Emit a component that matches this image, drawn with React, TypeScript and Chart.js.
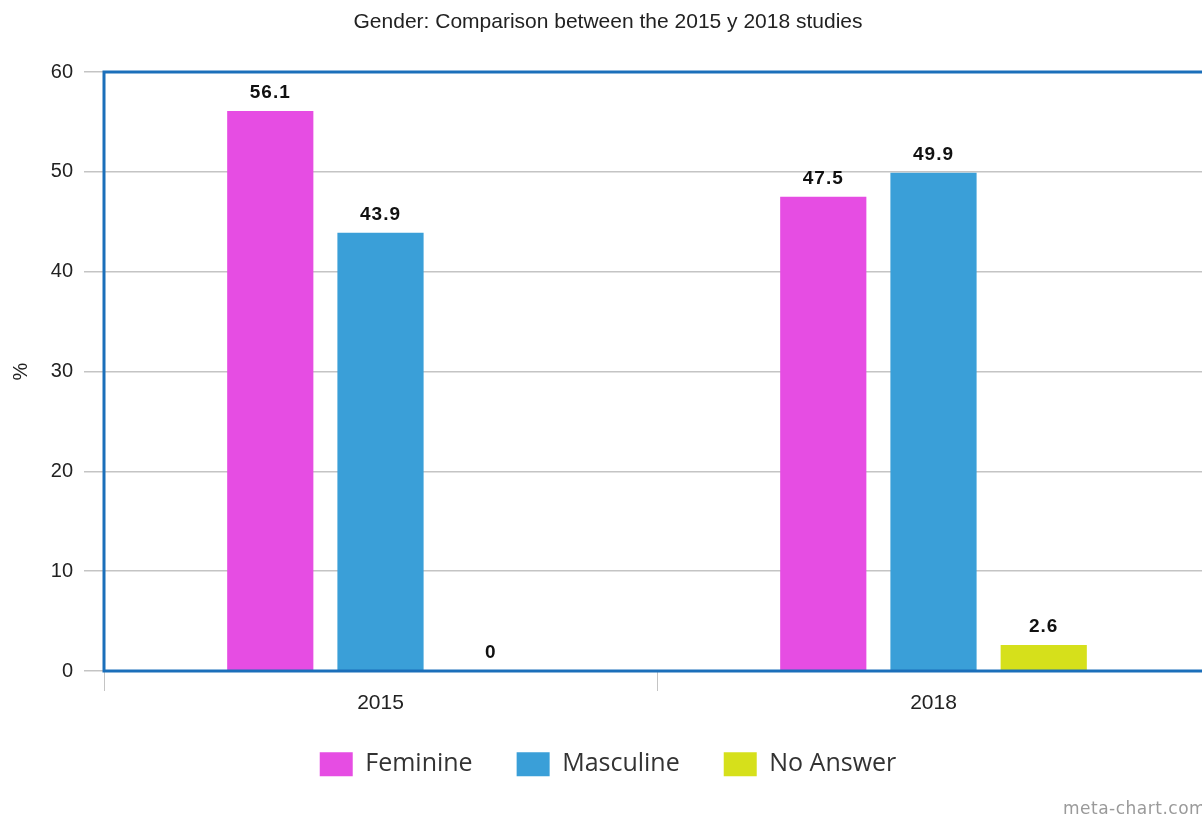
import React, { useEffect, useRef } from "react";
import { Chart, registerables } from "chart.js";

Chart.register(...registerables);

const categories = ["2015", "2018"];
const feminine = [56.1, 47.5];
const masculine = [43.9, 49.9];
const noAnswer = [0, 2.6];
const seriesNames = ["Feminine", "Masculine", "No Answer"];
const seriesColors = ["#e64de3", "#3a9fd8", "#d6e01b"];
const titleText = "Gender: Comparison between the 2015 y 2018 studies";
const yTitle = "%";
const watermark = "meta-chart.com";

const FONT = "'Liberation Sans', Arial, sans-serif";

const frameColor = "#1b6fba";

const framePlugin = {
  id: "frame",
  afterDatasetsDraw(chart: any) {
    const { ctx, chartArea } = chart;
    ctx.save();
    ctx.strokeStyle = frameColor;
    ctx.lineWidth = 3;
    ctx.strokeRect(chartArea.left, chartArea.top, chartArea.right - chartArea.left, chartArea.bottom - chartArea.top);
    ctx.restore();
  },
};

const shiftPlugin = {
  id: "shiftBoxes",
  afterLayout(chart: any) {
    const t = chart.titleBlock;
    if (t) {
      t.left += 3;
      t.right += 3;
    }
    const l = chart.legend;
    if (l) {
      l.left += 3;
      l.right += 3;
      l.top -= 8.5;
      l.bottom -= 8.5;
    }
  },
};

const labelPlugin = {
  id: "valueLabels",
  afterDraw(chart: any) {
    const { ctx } = chart;
    ctx.save();
    ctx.font = `bold 19px ${FONT}`;
    (ctx as any).letterSpacing = "1px";
    ctx.fillStyle = "#111";
    ctx.textAlign = "center";
    ctx.textBaseline = "alphabetic";
    chart.data.datasets.forEach((ds: any, di: number) => {
      const meta = chart.getDatasetMeta(di);
      meta.data.forEach((el: any, i: number) => {
        const v = ds.data[i];
        ctx.fillText(String(v), el.x, el.y - 13);
      });
    });
    ctx.restore();
  },
};

const watermarkPlugin = {
  id: "watermark",
  afterDraw(chart: any) {
    const { ctx } = chart;
    ctx.save();
    ctx.font = `17px 'DejaVu Sans', sans-serif`;
    (ctx as any).letterSpacing = "0.5px";
    ctx.fillStyle = "#9a9a9a";
    ctx.textAlign = "left";
    ctx.textBaseline = "alphabetic";
    ctx.fillText(watermark, 1063, 814);
    ctx.restore();
  },
};

export default function App() {
  const ref = useRef<HTMLCanvasElement | null>(null);
  useEffect(() => {
    document.body.style.margin = "0";
    const canvas = ref.current;
    if (!canvas) return;
    const values = [feminine, masculine, noAnswer];
    const chart = new Chart(canvas, {
      type: "bar",
      data: {
        labels: categories,
        datasets: values.map((d, i) => ({
          label: seriesNames[i],
          data: d,
          backgroundColor: seriesColors[i],
          borderWidth: 0,
          categoryPercentage: 0.598,
          barPercentage: 0.782,
        })),
      },
      options: {
        animation: false,
        responsive: false,
        devicePixelRatio: 1,
        layout: { padding: { top: 0, left: 0, right: 2, bottom: 23.8 } },
        plugins: {
          title: {
            display: true,
            text: titleText,
            color: "#222",
            font: { family: FONT, size: 21, weight: "normal" },
            padding: { top: 9.4, bottom: 37.4 },
          },
          legend: {
            position: "bottom",
            maxHeight: 80,
            labels: {
              boxWidth: 33,
              boxHeight: 24,
              padding: 44,
              color: "#333",
              font: { family: "'Open Sans', sans-serif", size: 25 },
            },
          },
          tooltip: { enabled: false },
        },
        scales: {
          x: {
            grid: {
              offset: true,
              drawOnChartArea: false,
              drawTicks: true,
              tickLength: 20,
              color: "#c4c4c4",
            },
            border: { display: false },
            ticks: { color: "#222", padding: 0, font: { family: FONT, size: 21 } },
          },
          y: {
            min: 0,
            max: 60,
            ticks: { stepSize: 10, color: "#222", padding: 11, font: { family: FONT, size: 20 } },
            grid: { color: "#c4c4c4", tickLength: 20, lineWidth: 1.5 },
            border: { display: false },
            title: {
              display: true,
              text: yTitle,
              color: "#222",
              font: { family: FONT, size: 20 },
              padding: { top: 9, bottom: 0 },
            },
            afterFit(scale: any) {
              scale.width = 104;
            },
          },
        },
      },
      plugins: [shiftPlugin, framePlugin, labelPlugin, watermarkPlugin],
    } as any);
    return () => chart.destroy();
  }, []);
  return (
    <div style={{ width: 1202, height: 819, overflow: "hidden", background: "#fff" }}>
      <canvas ref={ref} width={1212} height={819} style={{ display: "block" }} />
    </div>
  );
}
